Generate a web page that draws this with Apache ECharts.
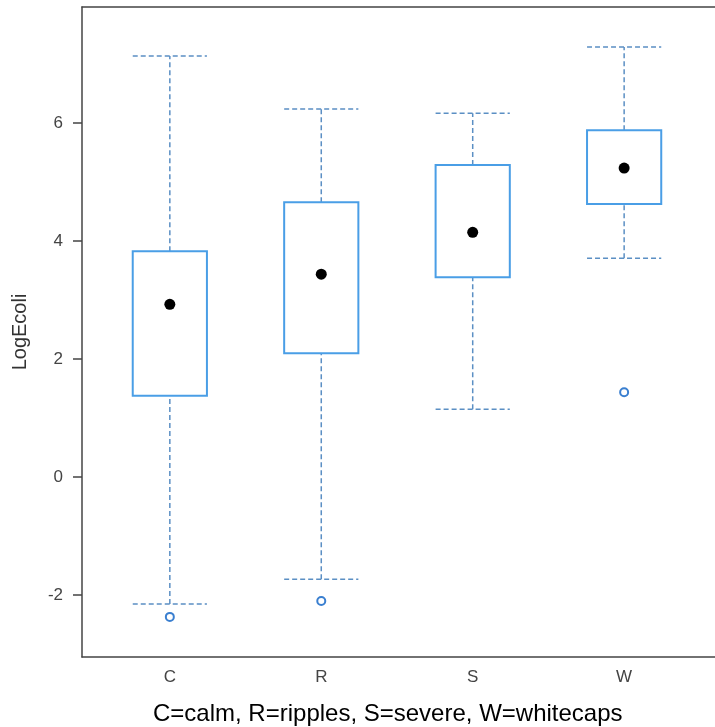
<!DOCTYPE html>
<html>
<head>
<meta charset="utf-8">
<script src="https://cdn.jsdelivr.net/npm/echarts@6/dist/echarts.min.js"></script>
<style>html,body{margin:0;padding:0;background:#fff}#c{width:715px;height:727px}</style>
</head>
<body>
<div id="c"></div>
<script>
var categories = ['C', 'R', 'S', 'W'];
var whiskerLow = [-2.15, -1.73, 1.15, 3.71];
var q1 = [1.38, 2.10, 3.39, 4.63];
var median = [2.93, 3.44, 4.15, 5.24];
var q3 = [3.83, 4.66, 5.29, 5.88];
var whiskerHigh = [7.14, 6.24, 6.17, 7.29];
var outliers = [[1, -2.37], [2, -2.10], [4, 1.44]];
var yTicks = [-2, 0, 2, 4, 6];
var xTicks = [1, 2, 3, 4];

var boxData = categories.map(function (c, i) {
  return [i + 1, whiskerLow[i], q1[i], median[i], q3[i], whiskerHigh[i]];
});
var medianData = categories.map(function (c, i) { return [i + 1, median[i]]; });

var boxColor = '#4a9ee6';
var whiskerColor = '#5b8fc4';
var axisColor = '#444';

var chart = echarts.init(document.getElementById('c'));
chart.setOption({
  animation: false,
  backgroundColor: '#fff',
  textStyle: { fontFamily: 'Liberation Sans, Arial, sans-serif' },
  title: {
    text: 'C=calm, R=ripples, S=severe, W=whitecaps',
    left: 148, top: 697,
    textStyle: { fontSize: 24, fontWeight: 'normal', color: '#000', fontFamily: 'Liberation Sans, Arial, sans-serif' }
  },
  grid: { left: 82, top: 7, width: 635, bottom: 70, show: false },
  xAxis: [
    {
      type: 'value', min: 0.42, max: 4.6, position: 'bottom',
      splitLine: { show: false },
      axisLine: { show: true, onZero: false, lineStyle: { color: axisColor, width: 1.5 } },
      axisTick: { show: false },
      axisLabel: {
        customValues: xTicks, fontSize: 17, color: '#444', margin: 12,
        formatter: function (v) { return categories[Math.round(v) - 1] || ''; }
      }
    },
    {
      type: 'value', min: 0.42, max: 4.6, position: 'top',
      splitLine: { show: false },
      axisLine: { show: true, onZero: false, lineStyle: { color: axisColor, width: 1.5 } },
      axisTick: { show: false },
      axisLabel: { show: false }
    }
  ],
  yAxis: {
    type: 'value', min: -3.05, max: 7.97,
    name: 'LogEcoli', nameLocation: 'middle', nameGap: 52, nameRotate: 90,
    nameTextStyle: { fontSize: 20, color: '#333' },
    splitLine: { show: false },
    axisLine: { show: true, onZero: false, lineStyle: { color: axisColor, width: 1.5 } },
    axisTick: { show: true, customValues: yTicks, length: 9, lineStyle: { color: axisColor, width: 1.5 } },
    axisLabel: { customValues: yTicks, fontSize: 17, color: '#444', margin: 19 }
  },
  series: [
    {
      type: 'custom',
      data: boxData,
      renderItem: function (params, api) {
        var x = api.value(0);
        var half = api.size([0.49, 0])[0] / 2;
        var pLow = api.coord([x, api.value(1)]);
        var pQ1 = api.coord([x, api.value(2)]);
        var pQ3 = api.coord([x, api.value(4)]);
        var pHigh = api.coord([x, api.value(5)]);
        var dash = { stroke: whiskerColor, lineWidth: 1.5, lineDash: [5, 3], fill: null };
        return {
          type: 'group',
          children: [
            { type: 'line', shape: { x1: pLow[0], y1: pLow[1], x2: pQ1[0], y2: pQ1[1] }, style: dash },
            { type: 'line', shape: { x1: pQ3[0], y1: pQ3[1], x2: pHigh[0], y2: pHigh[1] }, style: dash },
            { type: 'line', shape: { x1: pLow[0] - half, y1: pLow[1], x2: pLow[0] + half, y2: pLow[1] }, style: dash },
            { type: 'line', shape: { x1: pHigh[0] - half, y1: pHigh[1], x2: pHigh[0] + half, y2: pHigh[1] }, style: dash },
            { type: 'rect', shape: { x: pQ3[0] - half, y: pQ3[1], width: half * 2, height: pQ1[1] - pQ3[1] },
              style: { stroke: boxColor, lineWidth: 2, fill: '#fff' } }
          ]
        };
      },
      z: 2
    },
    {
      type: 'scatter', data: medianData, symbol: 'circle', symbolSize: 11,
      itemStyle: { color: '#000', opacity: 1 }, z: 3
    },
    {
      type: 'scatter', data: outliers, symbol: 'emptyCircle', symbolSize: 8,
      itemStyle: { color: '#3a7fd0', borderWidth: 1.5, opacity: 1 }, z: 3
    }
  ]
});
</script>
</body>
</html>
